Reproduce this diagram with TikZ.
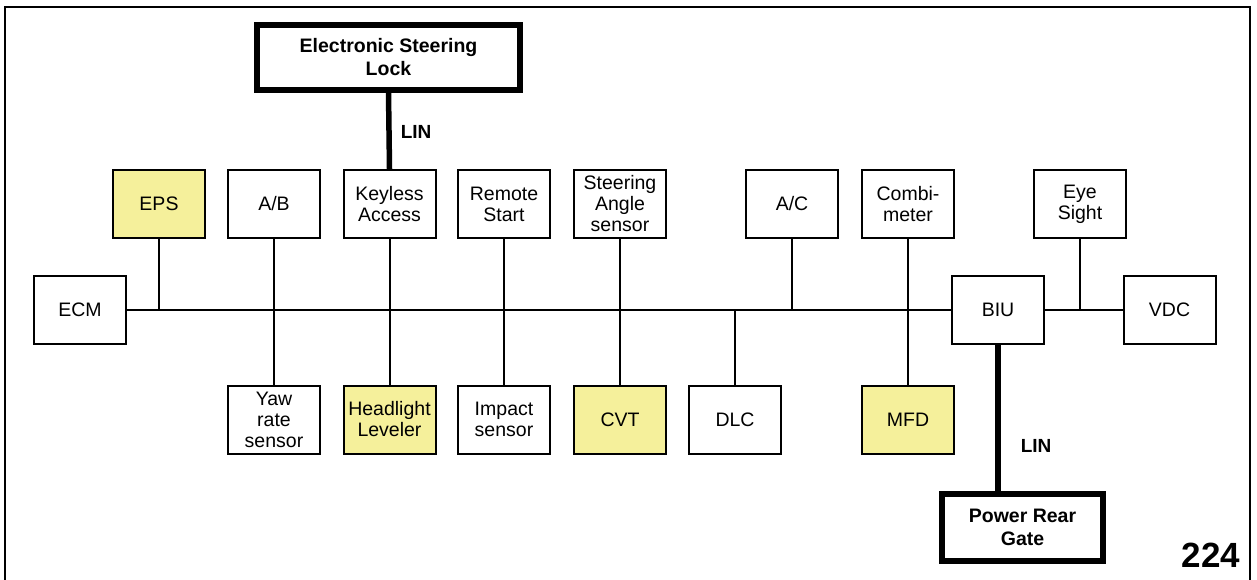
\documentclass[tikz,border=0pt]{standalone}
\usepackage{fontspec}
\setmainfont{Liberation Sans}
\definecolor{ecuyellow}{HTML}{F5F09B}

\begin{document}
\begin{tikzpicture}[
  x=1pt,y=-1pt,
  ecu/.style={draw=black,line width=2pt,fill=white,minimum width=92pt,minimum height=68pt,inner sep=1pt,align=center,font=\fontsize{19.5}{21}\selectfont},
  ecuhl/.style={ecu,fill=ecuyellow},
  linbox/.style={draw=black,line width=5.5pt,fill=white,inner sep=1pt,align=center,font=\fontsize{19.5}{23}\selectfont\bfseries},
  bus/.style={draw=black,line width=2pt},
  linbus/.style={draw=black,line width=5.5pt},
  linlabel/.style={inner sep=0pt,font=\fontsize{19}{19}\selectfont\bfseries},
  pagenum/.style={inner sep=0pt,font=\fontsize{35}{35}\selectfont\bfseries}
]
  \useasboundingbox (0,0) rectangle (1257,579);
  \draw[line width=2pt] (5,590) -- (5,7) -- (1250,7) -- (1250,590);

  % top row
  \node[ecuhl] (EPS) at (159,204) {EPS};
  \node[ecu] (AB) at (274,204) {A/B};
  \node[ecu] (Keyless) at (389.5,204) {Keyless\\Access};
  \node[ecu] (Remote) at (504,204) {Remote\\Start};
  \node[ecu] (SAS) at (620,204) {Steering\\Angle\\sensor};
  \node[ecu] (AC) at (792,204) {A/C};
  \node[ecu] (Combi) at (908,204) {Combi-\\meter};
  \node[ecu] (Eye) at (1080,204) {Eye\\Sight};

  % bus row
  \node[ecu] (ECM) at (80,310) {ECM};
  \node[ecu] (BIU) at (998,310) {BIU};
  \node[ecu] (VDC) at (1169.5,310) {VDC};

  % bottom row
  \node[ecu] (Yaw) at (274,419.5) {Yaw\\rate\\sensor};
  \node[ecuhl] (Headlight) at (389.5,419.5) {Headlight\\Leveler};
  \node[ecu] (Impact) at (504,419.5) {Impact\\sensor};
  \node[ecuhl] (CVT) at (620,419.5) {CVT};
  \node[ecu] (DLC) at (735,419.5) {DLC};
  \node[ecuhl] (MFD) at (908,419.5) {MFD};

  % LIN devices
  \node[linbox,minimum width=263pt,minimum height=65pt] (ESL) at (388.5,57.5) {Electronic Steering\\Lock};
  \node[linbox,minimum width=161pt,minimum height=67pt] (PRG) at (1022.5,527.5) {Power Rear\\Gate};

  \draw[bus] (ECM.east) -- (BIU.west);
  \draw[bus] (BIU.east) -- (VDC.west);
  \foreach \n in {EPS,AC} {
    \draw[bus] (\n.south) -- (\n.south |- ECM.east);
  }
  \draw[bus] (DLC.north) -- (DLC.north |- ECM.east);
  \draw[bus] (Eye.south) -- (Eye.south |- VDC.west);
  \foreach \a/\b in {AB/Yaw,Keyless/Headlight,Remote/Impact,SAS/CVT,Combi/MFD} {
    \draw[bus] (\a.south) -- (\b.north);
  }

  \draw[linbus] (ESL.south) -- node[linlabel,pos=0.52,right=9pt] {LIN} (Keyless.north);
  \draw[linbus] (BIU.south) -- node[linlabel,pos=0.69,right=20pt] {LIN} (BIU.south |- PRG.north);

  \node[pagenum] (page) at (1211,555.5) {224};
\end{tikzpicture}
\end{document}
